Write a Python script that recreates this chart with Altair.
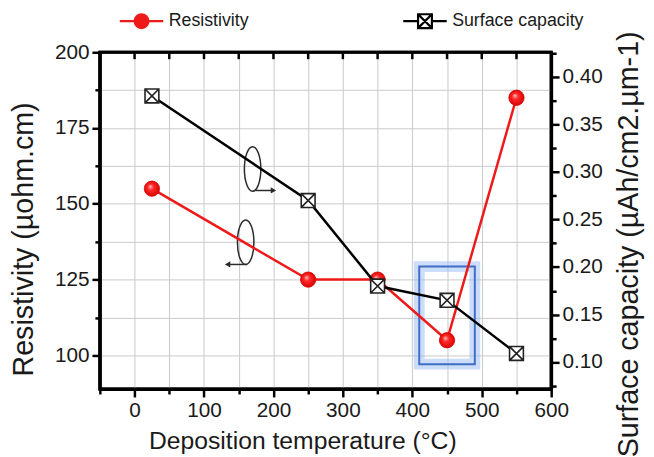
import altair as alt
import pandas as pd

# ---------------- data ----------------
temps = [25, 250, 350, 450, 550]
resistivity = [155, 125, 125, 105, 185]
capacity = [0.38, 0.27, 0.18, 0.165, 0.109]
series_names = ["Resistivity", "Surface capacity"]

x_ticks = [-50, 0, 50, 100, 150, 200, 250, 300, 350, 400, 450, 500, 550, 600]
y_left_ticks = [100, 112.5, 125, 137.5, 150, 162.5, 175, 187.5, 200]
y_right_ticks = [0.075, 0.1, 0.125, 0.15, 0.175, 0.2, 0.225, 0.25, 0.275,
                 0.3, 0.325, 0.35, 0.375, 0.4, 0.425]

# highlight box (x range, resistivity range)
box_x, box_x2 = [410], [490]
box_y, box_y2 = [129.3], [97.1]
# rotation-ellipse annotations (x, resistivity)
ell_x = [170, 160]
ell_y = [161.5, 137.3]
# arrows (start x, end x, resistivity)
arr_r = {"x": [174], "x2": [200], "y": [154.4]}
arr_l = {"x": [162], "x2": [134], "y": [130]}

X_DOMAIN = [-50, 600]
YL_DOMAIN = [88.9, 200]
YR_DOMAIN = [0.0716, 0.426]

RED = "#ee1a1a"
FONT = "Liberation Sans"
TXT = "#1a1a1a"

res_df = pd.DataFrame({"T": temps, "R": resistivity})
cap_df = pd.DataFrame({"T": temps, "C": capacity})
box_df = pd.DataFrame({"T": box_x, "x2": box_x2, "R": box_y, "y2": box_y2})
frame_df = pd.DataFrame({"T": [X_DOMAIN[0]], "x2": [X_DOMAIN[1]], "C": [YR_DOMAIN[0]], "y2": [YR_DOMAIN[1]]})
ell_df = pd.DataFrame({"T": ell_x, "R": ell_y})
arr_r_df = pd.DataFrame({"T": arr_r["x"], "x2": arr_r["x2"], "R": arr_r["y"]})
arr_l_df = pd.DataFrame({"T": arr_l["x"], "x2": arr_l["x2"], "R": arr_l["y"]})
leg_df = pd.DataFrame({"series": series_names})
top_df = pd.DataFrame({"T": x_ticks[1:-1]})

xs = alt.Scale(domain=X_DOMAIN, nice=False, zero=False)
yls = alt.Scale(domain=YL_DOMAIN, nice=False, zero=False)
yrs = alt.Scale(domain=YR_DOMAIN, nice=False, zero=False)

common = dict(
    labelFont=FONT, labelFontSize=21, labelColor=TXT, labelPadding=3,
    labelFlush=False, labelOverlap=False, titleFont=FONT, titleFontWeight="normal",
    titleColor=TXT, domain=True, domainColor="#000000", domainWidth=3,
    ticks=True, tickColor="black", tickWidth=2.5,
)
x_axis = alt.Axis(
    values=x_ticks, format="d",
    labelExpr="datum.value >= 0 && datum.value % 100 == 0 ? datum.label : ''",
    title="Deposition temperature (°C)", titleFontSize=25, titleX=205, titleY=60,
    titleAlign="center", titleBaseline="alphabetic", titleAngle=0,
    tickSize={"condition": {"test": "datum.value % 100 == 0", "value": 8}, "value": 5},
    grid=True, gridColor="#c9c9c9", gridWidth=1,
    **common,
)
yl_axis = alt.Axis(
    values=y_left_ticks, format="d",
    labelExpr="datum.value % 25 == 0 ? datum.label : ''",
    title="Resistivity (µohm.cm)", titleFontSize=29, titleX=-77, titleY=189,
    titleAngle=270, titleAlign="center", titleBaseline="middle",
    tickSize={"condition": {"test": "datum.value % 25 == 0", "value": 8}, "value": 5},
    grid=True, gridColor="#c9c9c9", gridWidth=1,
    **common,
)
yr_axis = alt.Axis(
    orient="right", values=y_right_ticks,
    labelExpr="(round(datum.value*1000) % 50 == 0 && datum.value > 0.09 && datum.value < 0.41) ? format(datum.value, '.2f') : ''",
    title="Surface capacity (µAh/cm2.µm-1)", titleFontSize=29, titleX=78, titleY=194,
    titleAngle=270, titleAlign="center", titleBaseline="middle",
    tickSize={"condition": {"test": "round(datum.value*1000) % 50 == 0", "value": 8}, "value": 5},
    grid=False,
    **common,
)

X = alt.X("T:Q", scale=xs, axis=x_axis)
YL = alt.Y("R:Q", scale=yls, axis=yl_axis)
YR = alt.Y("C:Q", scale=yrs, axis=yr_axis)

# ---------- left (resistivity) group ----------
glow = alt.Chart(box_df).mark_rect(fillOpacity=0, stroke="#9bbcf4", strokeWidth=11, strokeOpacity=0.5).encode(
    x=X, x2="x2:Q", y=YL, y2="y2:Q")
box = alt.Chart(box_df).mark_rect(fillOpacity=0, stroke="#3f6fc4", strokeWidth=2).encode(
    x=X, x2="x2:Q", y=YL, y2="y2:Q")

ELL = "M0,-1A0.37,1,0,1,1,0,1A0.37,1,0,1,1,0,-1Z"
ell = alt.Chart(ell_df).mark_point(shape=ELL, size=2025, filled=False, stroke="#2a2a2a",
                                   strokeWidth=1.5, opacity=1).encode(x=X, y=YL)
ar1 = alt.Chart(arr_r_df).mark_rule(color="#2a2a2a", strokeWidth=1.5).encode(x=X, x2="x2:Q", y=YL)
ar1h = alt.Chart(arr_r_df).mark_point(shape="triangle-right", size=40, filled=True, color="#2a2a2a",
                                      opacity=1).encode(x=alt.X("x2:Q", scale=xs, axis=x_axis), y=YL)
ar2 = alt.Chart(arr_l_df).mark_rule(color="#2a2a2a", strokeWidth=1.5).encode(x=X, x2="x2:Q", y=YL)
ar2h = alt.Chart(arr_l_df).mark_point(shape="triangle-left", size=40, filled=True, color="#2a2a2a",
                                      opacity=1).encode(x=alt.X("x2:Q", scale=xs, axis=x_axis), y=YL)

res_line = alt.Chart(res_df).mark_line(color=RED, strokeWidth=2.5).encode(x=X, y=YL)
grad = alt.RadialGradient(
    gradient="radial", x1=0.38, y1=0.35, r1=0.0, x2=0.5, y2=0.5, r2=0.55,
    stops=[alt.GradientStop(color="#ffc8c8", offset=0),
           alt.GradientStop(color="#ff2a2a", offset=0.35),
           alt.GradientStop(color="#d40000", offset=1)])
res_pts = alt.Chart(res_df).mark_point(shape="circle", size=240, filled=True, fill=grad,
                                       stroke="#dd0000", strokeWidth=0.8, opacity=1).encode(x=X, y=YL)

RED_LEG = "M-2.2,0L2.2,0M0.7,0A0.7,0.7,0,1,1,-0.7,0A0.7,0.7,0,1,1,0.7,0Z"
BLK_LEG = "M-2.2,0L-0.7,0M0.7,0L2.2,0M-0.7,-0.7L0.7,-0.7L0.7,0.7L-0.7,0.7ZM-0.7,-0.7L0.7,0.7M0.7,-0.7L-0.7,0.7"
legend = alt.Legend(orient="none", legendX=30.7, legendY=-43, direction="horizontal", title=None,
                    labelFontSize=18, labelFont=FONT, labelColor=TXT, symbolSize=400,
                    symbolStrokeWidth=2.2, labelOffset=16, columnPadding=151, padding=0,
                    symbolOpacity=1)
leg_layer = alt.Chart(leg_df).mark_point(clip=True, opacity=1, strokeWidth=2.2, size=400).encode(
    x=alt.value(-2000), y=alt.value(-2000),
    shape=alt.Shape("series:N", scale=alt.Scale(domain=series_names, range=[RED_LEG, BLK_LEG]), legend=legend),
    fill=alt.Fill("series:N", scale=alt.Scale(domain=series_names, range=[RED, "white"]), legend=legend),
    stroke=alt.Stroke("series:N", scale=alt.Scale(domain=series_names, range=[RED, "black"]), legend=legend),
)

top_ticks = alt.Chart(top_df).mark_rule(color="black", strokeWidth=2.5).encode(
    x=X, y=alt.value(0), y2=alt.value(7))

left = alt.layer(glow, box, ell, ar1, ar1h, ar2, ar2h, res_line, res_pts, top_ticks, leg_layer)

# ---------- right (capacity) group ----------
BOX_X = "M-1,-1L1,-1L1,1L-1,1ZM-1,-1L1,1M1,-1L-1,1"
cap_line = alt.Chart(cap_df).mark_line(color="black", strokeWidth=2.5).encode(x=X, y=YR)
cap_pts = alt.Chart(cap_df).mark_point(shape=BOX_X, size=196, filled=True, fill="white",
                                       stroke="#222222", strokeWidth=1.6, opacity=1).encode(x=X, y=YR)
frame = alt.Chart(frame_df).mark_rect(filled=False, color="#000000", strokeWidth=3, opacity=1).encode(
    x=X, x2="x2:Q", y=YR, y2="y2:Q")

right = alt.layer(cap_line, cap_pts, frame)

chart = alt.layer(left, right).resolve_scale(y="independent").properties(
    width=457, height=341,
    autosize=alt.AutoSizeParams(type="none"),
    padding={"left": 93, "top": 42, "right": 96, "bottom": 66},
).configure_view(stroke="#000000", strokeWidth=3)

chart.save("out.html", embed_options={"renderer": "svg", "actions": False})
